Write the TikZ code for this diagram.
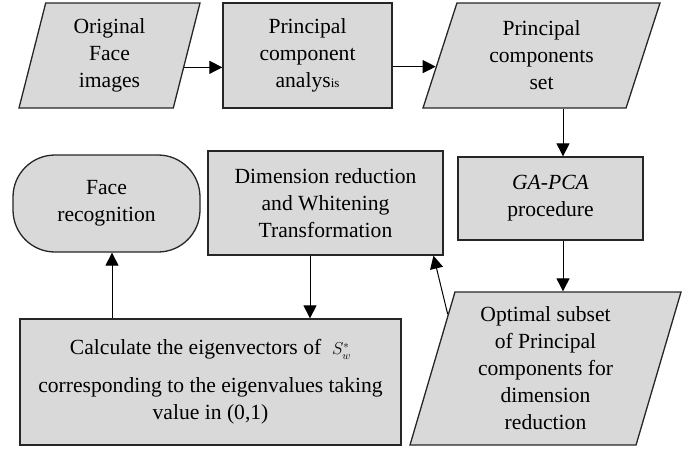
\documentclass[tikz,border=0pt]{standalone}
\usepackage{fontspec}
\setmainfont{Liberation Serif}
\usetikzlibrary{arrows.meta, shapes.geometric}

\begin{document}
\begin{tikzpicture}[x=1pt, y=-1pt, thick]

		\tikzstyle{proc}=[rectangle, draw=black!85, line width=1.3pt, fill=gray!30, text=black, align=center, font=\fontsize{21.6}{27}\selectfont]
		\tikzstyle{data}=[trapezium, trapezium stretches body, draw=black!85, line width=1.3pt, fill=gray!30, text=black, align=center, font=\fontsize{21.6}{27}\selectfont]
		\tikzstyle{term}=[rectangle, rounded corners=42pt, draw=black!85, line width=1.3pt, fill=gray!30, text=black, align=center, font=\fontsize{21.6}{27}\selectfont]
		\tikzstyle{arr}=[-{Triangle[length=13pt, width=13pt]}, line width=1pt, black]

		\useasboundingbox (0,0) rectangle (695,451);

		% top row
		\node[data, minimum width=181pt, minimum height=105pt, trapezium left angle=71.6, trapezium right angle=108.4] (orig) at (109.5,55.5) {Original\\Face\\images};
		\node[proc, minimum width=169pt, minimum height=105pt] (pca) at (307.5,55.5) {Principal\\component\\analys{\fontsize{13}{13}\selectfont is}};
		\node[data, minimum width=237pt, minimum height=105pt, trapezium left angle=65.9, trapezium right angle=114.1] (pcs) at (541.5,55.5) {Principal\\components\\set};

		% middle row
		\node[term, minimum width=187pt, minimum height=97pt] (face) at (106.5,203.5) {Face\\recognition};
		\node[proc, minimum width=235pt, minimum height=104pt] (dim) at (325.5,203) {Dimension reduction\\and Whitening\\Transformation};
		\node[proc, minimum width=185pt, minimum height=83pt] (gapca) at (550.5,198.5) {\textit{GA-PCA}\\procedure};

		% bottom row
		\node[proc, minimum width=381pt, minimum height=126pt] (eig) at (210.5,382) {Calculate the eigenvectors of \ {\fontsize{16}{16}\selectfont$S_w^*$}\\[11pt]corresponding to the eigenvalues taking\\value in (0,1)};
		\node[data, minimum width=271pt, minimum height=153pt, trapezium left angle=70.9, trapezium right angle=109.1] (opt) at (545.5,368.5) {Optimal subset\\of Principal\\components for\\dimension\\reduction};

		\coordinate (xr) at (563,0);
		\coordinate (xd) at (310,0);
		\coordinate (xf) at (112,0);

		% links
		\draw[arr] (orig.-9.5) -- (orig.-9.5 -| pca.west);
		\draw[arr] (pca.east |- pcs.186.6) -- (pcs.186.6);
		\draw[arr] (pcs.south -| xr) -- (gapca.north -| xr);
		\draw[arr] (gapca.south -| xr) -- (opt.north -| xr);
		\draw[arr] (opt.151.6) -- (dim.-26.9);
		\draw[arr] (dim.south -| xd) -- (eig.north -| xd);
		\draw[arr] (eig.north -| xf) -- (face.south -| xf);
\end{tikzpicture}
\end{document}
